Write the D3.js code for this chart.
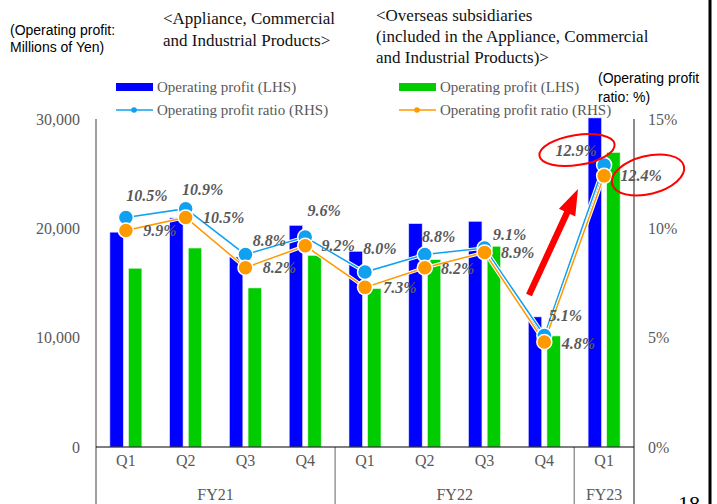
<!DOCTYPE html>
<html>
<head>
<meta charset="utf-8">
<script src="https://cdn.jsdelivr.net/npm/d3@7"></script>
<style>
  body { margin: 0; background: #fff; }
  svg { display: block; }
  text { font-family: "Liberation Serif", "Times New Roman", serif; }
</style>
</head>
<body>
<svg id="chart" width="717" height="504"></svg>
<script>
// data
const quarterLabels = ["Q1", "Q2", "Q3", "Q4", "Q1", "Q2", "Q3", "Q4", "Q1"];
const yearLabels = ["FY21", "FY22", "FY23"];
const yearSpans = [4, 4, 1];

// Operating profit, millions of yen
const profitTotal = [19650, 20950, 17380, 20270, 17900, 20430, 20640, 11900, 30100];
const profitOverseas = [16350, 18200, 14550, 17530, 14490, 17140, 18360, 10160, 26940];

// Operating profit ratio, %
const ratioTotal = [10.5, 10.9, 8.8, 9.6, 8.0, 8.8, 9.1, 5.1, 12.9];
const ratioOverseas = [9.9, 10.5, 8.2, 9.2, 7.3, 8.2, 8.9, 4.8, 12.4];

const leftTicks = [0, 10000, 20000, 30000];
const rightTicks = [0, 5, 10, 15];

// Colors
const blue_bar = "#0000ff",
    green_bar = "#00cc00",
    blue_line = "#10a0f0",
    orange_line = "#ff9900",
    label_gray = "#595959",
    ann_red = "#ff0000";

const svg = d3.select("#chart");

const plot = {left: 96, right: 634, top: 119, bottom: 447};

const idx = d3.range(quarterLabels.length);

const x0 = d3.scaleBand()
    .domain(idx)
    .range([plot.left, plot.right]);

const x1 = d3.scaleBand()
    .domain(["total", "overseas"])
    .range([0, 32])
    .paddingInner(0.28);

const yL = d3.scaleLinear()
    .domain([0, 30000])
    .range([plot.bottom, plot.top]);

const yR = d3.scaleLinear()
    .domain([0, 15])
    .range([plot.bottom, plot.top]);

const cx = i => x0(i) + x0.bandwidth() / 2;

// axis lines
svg.append("line")
    .attr("x1", plot.left).attr("x2", plot.left)
    .attr("y1", plot.top).attr("y2", 504)
    .attr("stroke", "#7f7f7f").attr("stroke-width", 1.5);

svg.append("line")
    .attr("x1", plot.right).attr("x2", plot.right)
    .attr("y1", plot.top).attr("y2", 504)
    .attr("stroke", "#404040").attr("stroke-width", 1.2);

// year separators
let acc = 0;
yearSpans.forEach((n, k) => {
    acc += n;
    if (k < yearSpans.length - 1) {
        const xs = x0(acc);
        svg.append("line")
            .attr("x1", xs).attr("x2", xs)
            .attr("y1", plot.bottom).attr("y2", 504)
            .attr("stroke", "#7f7f7f").attr("stroke-width", 1.2);
    }
});

// left axis
const left_axis = svg.append("g")
    .attr("transform", `translate(${plot.left},0)`)
    .call(d3.axisLeft(yL).tickValues(leftTicks).tickSize(0).tickPadding(16).tickFormat(d3.format(",")));
left_axis.select(".domain").remove();
left_axis.selectAll("text")
    .attr("font-size", 16).attr("fill", label_gray)
    .style("font-family", "Liberation Serif, serif");

// right axis
const right_axis = svg.append("g")
    .attr("transform", `translate(${plot.right},0)`)
    .call(d3.axisRight(yR).tickValues(rightTicks).tickSize(0).tickPadding(14).tickFormat(d => d + "%"));
right_axis.select(".domain").remove();
right_axis.selectAll("text")
    .attr("font-size", 16).attr("fill", label_gray)
    .style("font-family", "Liberation Serif, serif");

// bars
const groups = svg.append("g").attr("class", "bars")
    .selectAll("g")
    .data(idx)
    .enter().append("g")
    .attr("transform", i => `translate(${x0(i) + (x0.bandwidth() - 32) / 2},0)`);

groups.append("rect")
    .attr("x", x1("total"))
    .attr("width", x1.bandwidth())
    .attr("y", i => yL(profitTotal[i]))
    .attr("height", i => plot.bottom - yL(profitTotal[i]))
    .attr("fill", blue_bar)
    .attr("stroke", "#dcdcff").attr("stroke-width", 0.6);

groups.append("rect")
    .attr("x", x1("overseas"))
    .attr("width", x1.bandwidth())
    .attr("y", i => yL(profitOverseas[i]))
    .attr("height", i => plot.bottom - yL(profitOverseas[i]))
    .attr("fill", green_bar)
    .attr("stroke", "#dcffdc").attr("stroke-width", 0.6);

// baseline
svg.append("line")
    .attr("x1", plot.left).attr("x2", plot.right)
    .attr("y1", plot.bottom).attr("y2", plot.bottom)
    .attr("stroke", "#000").attr("stroke-width", 1.2);

// category labels
const x_axis = svg.append("g")
    .attr("transform", `translate(0,${plot.bottom})`)
    .call(d3.axisBottom(x0).tickSize(0).tickPadding(8).tickFormat(i => quarterLabels[i]));
x_axis.select(".domain").remove();
x_axis.selectAll("text")
    .attr("font-size", 16).attr("fill", label_gray)
    .style("font-family", "Liberation Serif, serif");

acc = 0;
yearSpans.forEach((n, k) => {
    const xa = x0(acc), xb = x0(acc + n - 1) + x0.bandwidth();
    svg.append("text")
        .attr("x", (xa + xb) / 2).attr("y", 500)
        .attr("text-anchor", "middle")
        .attr("font-size", 16).attr("fill", label_gray)
        .text(yearLabels[k]);
    acc += n;
});

// ratio lines
const line_fn = arr => d3.line().x((d, i) => cx(i)).y(d => yR(d))(arr);

svg.append("path")
    .attr("d", line_fn(ratioTotal))
    .attr("fill", "none").attr("stroke", "#fff").attr("stroke-width", 3.5);
svg.append("path")
    .attr("d", line_fn(ratioTotal))
    .attr("fill", "none").attr("stroke", blue_line).attr("stroke-width", 1.5);
svg.append("path")
    .attr("d", line_fn(ratioOverseas))
    .attr("fill", "none").attr("stroke", "#fff").attr("stroke-width", 3.5);
svg.append("path")
    .attr("d", line_fn(ratioOverseas))
    .attr("fill", "none").attr("stroke", orange_line).attr("stroke-width", 1.5);

svg.append("g").selectAll("circle")
    .data(ratioTotal)
    .enter().append("circle")
    .attr("cx", (d, i) => cx(i)).attr("cy", d => yR(d))
    .attr("r", 7.5)
    .attr("fill", blue_line).attr("stroke", "#fff").attr("stroke-width", 1.5);

svg.append("g").selectAll("circle")
    .data(ratioOverseas)
    .enter().append("circle")
    .attr("cx", (d, i) => cx(i)).attr("cy", d => yR(d))
    .attr("r", 7.5)
    .attr("fill", orange_line).attr("stroke", "#fff").attr("stroke-width", 1.5);

// data labels (offsets from each point)
const totalLabelOffset = [[21, -22], [17, -19], [24, -14], [19, -27], [15, -24], [14, -18], [25, -14], [21, -20], [-28, -15]];
const overseasLabelOffset = [[34, 0], [38, 0], [34, 0], [33, 0], [35, 0], [33, 1], [33, 0], [34, 1], [37, 0]];

function add_labels(arr, offs) {
    svg.append("g").selectAll("text")
        .data(arr)
        .enter().append("text")
        .attr("x", (d, i) => cx(i) + offs[i][0])
        .attr("y", (d, i) => yR(d) + offs[i][1])
        .attr("dy", "0.35em")
        .attr("text-anchor", "middle")
        .attr("font-size", 16).attr("font-weight", "bold").attr("font-style", "italic")
        .attr("fill", label_gray)
        .text(d => d.toFixed(1) + "%");
}
add_labels(ratioTotal, totalLabelOffset);
add_labels(ratioOverseas, overseasLabelOffset);

// red annotations
const ann = svg.append("g").attr("class", "annotation");
ann.append("ellipse")
    .attr("cx", 577).attr("cy", 150).attr("rx", 38).attr("ry", 15)
    .attr("transform", "rotate(-9,577,150)")
    .attr("fill", "none").attr("stroke", ann_red).attr("stroke-width", 2);
ann.append("ellipse")
    .attr("cx", 648).attr("cy", 175).attr("rx", 37).attr("ry", 19)
    .attr("transform", "rotate(-14,648,175)")
    .attr("fill", "none").attr("stroke", ann_red).attr("stroke-width", 2);

// arrow
const a0 = [529, 295], a1 = [578, 189];
const dx = a1[0] - a0[0], dy = a1[1] - a0[1], len = Math.hypot(dx, dy);
const ux = dx / len, uy = dy / len, px = -uy, py = ux;
const shaft = 3.2, headW = 9, headL = 26;
const hb = [a1[0] - ux * headL, a1[1] - uy * headL];
const pts = [
    [a0[0] + px * shaft, a0[1] + py * shaft],
    [hb[0] + px * shaft, hb[1] + py * shaft],
    [hb[0] + px * headW, hb[1] + py * headW],
    a1,
    [hb[0] - px * headW, hb[1] - py * headW],
    [hb[0] - px * shaft, hb[1] - py * shaft],
    [a0[0] - px * shaft, a0[1] - py * shaft]
];
ann.append("path")
    .attr("d", "M" + pts.map(p => p.join(",")).join("L") + "Z")
    .attr("fill", ann_red);

// legend
const legend = svg.append("g").attr("class", "legend");
const legend_items = [
    {x: 116, y: 87, kind: "bar", color: blue_bar, label: "Operating profit (LHS)"},
    {x: 116, y: 110, kind: "line", color: blue_line, label: "Operating profit ratio (RHS)"},
    {x: 399, y: 87, kind: "bar", color: green_bar, label: "Operating profit (LHS)"},
    {x: 399, y: 110, kind: "line", color: orange_line, label: "Operating profit ratio (RHS)"}
];
legend_items.forEach(d => {
    if (d.kind === "bar") {
        legend.append("rect")
            .attr("x", d.x).attr("y", d.y - 4).attr("width", 37).attr("height", 8)
            .attr("fill", d.color);
    } else {
        legend.append("line")
            .attr("x1", d.x).attr("x2", d.x + 37).attr("y1", d.y).attr("y2", d.y)
            .attr("stroke", d.color).attr("stroke-width", 1.5);
        legend.append("circle")
            .attr("cx", d.x + 18).attr("cy", d.y).attr("r", 2.8)
            .attr("fill", d.color);
    }
    legend.append("text")
        .attr("x", d.x + 41).attr("y", d.y).attr("dy", "0.35em")
        .attr("font-size", 15).attr("fill", label_gray)
        .text(d.label);
});

// headings
function add_lines(x, y0, lh, lines, size, family, color) {
    lines.forEach((t, k) => {
        svg.append("text")
            .attr("x", x).attr("y", y0 + k * lh).attr("dy", "0.35em")
            .attr("font-size", size).attr("fill", color)
            .style("font-family", family)
            .text(t);
    });
}
const sans = "Liberation Sans, Arial, sans-serif",
    serif = "Liberation Serif, Times New Roman, serif";

add_lines(10, 30, 17, ["(Operating profit:", "Millions of Yen)"], 14, sans, "#000");
add_lines(163, 18, 22, ["<Appliance, Commercial", "and Industrial Products>"], 17, serif, "#111");
add_lines(376, 15, 21, ["<Overseas subsidiaries", "(included in the Appliance, Commercial", "and Industrial Products)>"], 17, serif, "#111");
add_lines(598, 78, 19, ["(Operating profit", "ratio: %)"], 14, sans, "#000");

// page number and right border
svg.append("text")
    .attr("x", 678).attr("y", 511)
    .attr("font-size", 22).attr("fill", "#000")
    .text("18");

svg.append("line")
    .attr("x1", 710).attr("x2", 710).attr("y1", 0).attr("y2", 504)
    .attr("stroke", "#000").attr("stroke-width", 3);
</script>
</body>
</html>
